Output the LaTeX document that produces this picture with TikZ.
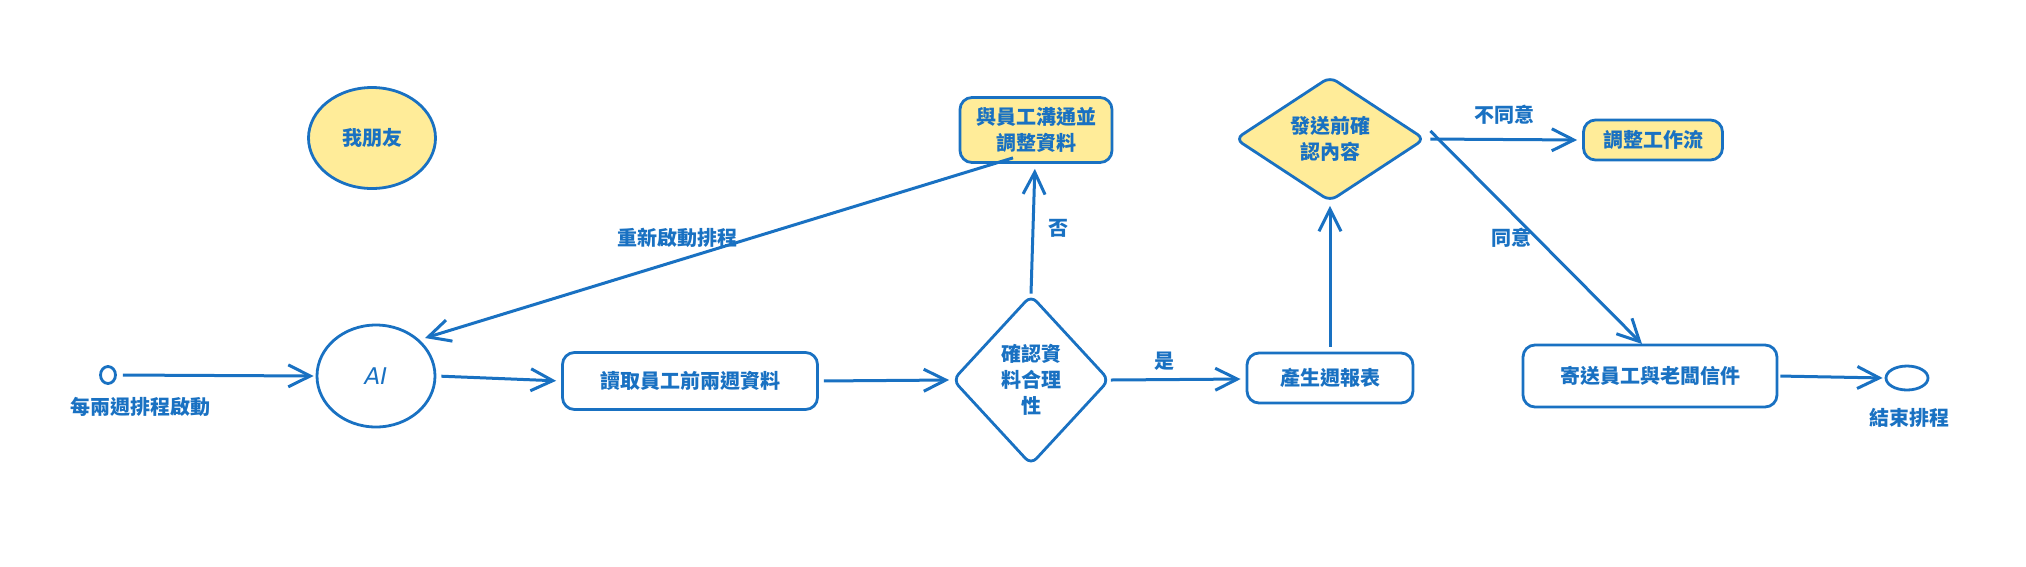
\documentclass[tikz,border=0pt]{standalone}
\usepackage{fontspec}
\newfontfamily\cjk{Noto Sans CJK TC}
\usetikzlibrary{shapes.geometric,arrows.meta}
\definecolor{exblue}{HTML}{1971C2}
\definecolor{exyellow}{HTML}{FFEC99}
\tikzset{
  every node/.style={font=\cjk\bfseries\fontsize{20}{26}\selectfont, text=exblue, align=center},
  boxnode/.style={draw=exblue, line width=2.8pt, rounded corners=12pt, inner sep=0pt},
  dianode/.style={draw=exblue, line width=2.8pt, diamond, rounded corners=8pt, inner sep=0pt},
  ellnode/.style={draw=exblue, line width=2.8pt, ellipse, inner sep=0pt},
  hl/.style={fill=exyellow},
  conn/.style={draw=exblue, line width=3pt, -{Straight Barb[length=22pt,width=22pt,line width=3pt]}},
  lbl/.style={inner sep=0pt}
}
\begin{document}
\begin{tikzpicture}[x=1pt,y=-1pt]
\useasboundingbox (0,0) rectangle (2026,566);
% nodes
\node[ellnode, minimum width=15pt, minimum height=17pt] (start) at (108,375) {};
\node[lbl] (startlbl) at (140,407) {每兩週排程啟動};
\node[ellnode, minimum width=118pt, minimum height=102pt] (ai) at (376,376) {\fontspec{DejaVu Sans}\mdseries\itshape\fontsize{23}{26}\selectfont AI};
\node[ellnode, hl, minimum width=127pt, minimum height=101pt] (friend) at (372,138) {我朋友};
\node[boxnode, minimum width=255pt, minimum height=57pt] (read) at (690,381) {讀取員工前兩週資料};
\node[dianode, minimum width=157pt, minimum height=170pt] (check) at (1031,380) {確認資\\料合理\\性};
\node[boxnode, hl, minimum width=152pt, minimum height=65pt] (adj) at (1036,130) {與員工溝通並\\調整資料};
\node[boxnode, minimum width=166pt, minimum height=50pt] (gen) at (1330,378) {產生週報表};
\node[dianode, hl, minimum width=190pt, minimum height=116pt] (confirm) at (1330,139) {發送前確\\認內容};
\node[boxnode, hl, minimum width=139pt, minimum height=40pt] (flow) at (1653,140) {調整工作流};
\node[boxnode, minimum width=254pt, minimum height=62pt] (send) at (1650,376) {寄送員工與老闆信件};
\node[ellnode, minimum width=42pt, minimum height=24pt] (end) at (1907,378) {};
\node[lbl] (endlbl) at (1909,418) {結束排程};
% connectors
\draw[conn, shorten <=6pt, shorten >=2pt] (start.east) -- (ai.west);
\draw[conn, shorten <=5pt, shorten >=5pt] (ai.east) -- (read.west);
\draw[conn, shorten <=5pt, shorten >=2pt] (read.east) -- (check.west);
\draw[conn, shorten >=5pt] (check.east) -- node[lbl, above=8pt, pos=0.4] {是} ([yshift=-1pt]gen.west);
\draw[conn, shorten >=5pt] (check.north) -- node[lbl, right=14pt, pos=0.5] {否} ([xshift=-1pt]adj.south);
\coordinate (restartEnd) at (425,338);
\draw[conn] ([xshift=-23pt,yshift=6pt]adj.south) -- node[lbl, pos=0.571, above=12pt] {重新啟動排程} (restartEnd);
\draw[conn, shorten <=5pt, shorten >=3pt] (gen.north) -- (confirm.south);
\draw[conn, shorten <=4pt, shorten >=5pt] (confirm.east) -- node[lbl, above=14pt, pos=0.5] {不同意} (flow.west);
\coordinate (agreeEnd) at (1642,344);
\draw[conn] ([xshift=4pt,yshift=8pt]confirm.east) -- node[lbl, pos=0.5, left=3pt] {同意} (agreeEnd);
\draw[conn, shorten <=2pt, shorten >=2pt] (send.east) -- (end.west);
\end{tikzpicture}
\end{document}
